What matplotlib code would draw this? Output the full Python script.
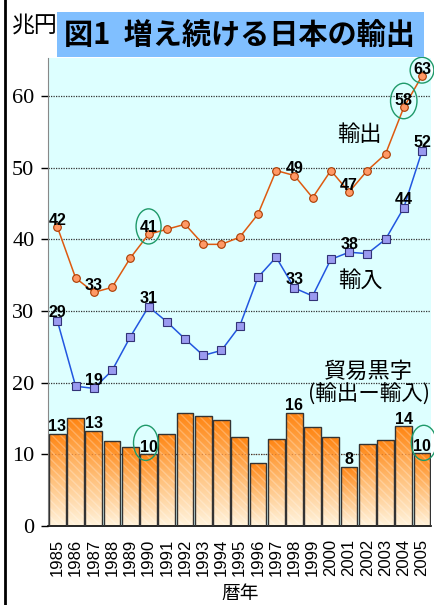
import matplotlib
matplotlib.use("Agg")
import matplotlib.pyplot as plt
import numpy as np
from matplotlib.patches import Rectangle, Ellipse
from matplotlib.colors import LinearSegmentedColormap

plt.rcParams['font.family'] = ['Noto Sans CJK JP', 'DejaVu Sans']

years = [str(y) for y in range(1985, 2006)]
exports = [41.7, 34.6, 32.6, 33.3, 37.4, 40.7, 41.4, 42.1, 39.3, 39.3, 40.3,
           43.5, 49.6, 48.9, 45.8, 49.6, 46.6, 49.6, 51.9, 58.4, 62.8]
imports = [28.6, 19.5, 19.2, 21.7, 26.4, 30.6, 28.5, 26.1, 23.8, 24.5, 27.9,
           34.7, 37.5, 33.2, 32.1, 37.2, 38.2, 38.0, 40.0, 44.4, 52.3]
balance = [12.9, 15.0, 13.3, 11.8, 11.0, 10.0, 12.9, 15.8, 15.4, 14.8, 12.4,
           8.8, 12.1, 15.8, 13.8, 12.4, 8.3, 11.5, 12.0, 13.9, 10.2]
export_labels = {0: "42", 2: "33", 5: "41", 13: "49", 16: "47", 19: "58", 20: "63"}
import_labels = {0: "29", 2: "19", 5: "31", 13: "33", 16: "38", 19: "44", 20: "52"}
balance_labels = {0: "13", 2: "13", 5: "10", 13: "16", 16: "8", 19: "14", 20: "10"}
yticks = [0, 10, 20, 30, 40, 50, 60]

W, H = 435, 605
fig = plt.figure(figsize=(W / 100, H / 100), dpi=100)
ax = fig.add_axes([48.3 / W, (H - 526) / H, 382.8 / W, 468 / H])
ax.set_facecolor('#ddffff')
x = np.arange(len(years))
ax.set_xlim(-0.5, len(years) - 0.5)
ax.set_ylim(0, 65.3)

# grid
for v in yticks[1:]:
    ax.axhline(v, color='#333333', lw=0.9, ls=(0, (1, 1)), zorder=1)

# bars with gradient
cmap = LinearSegmentedColormap.from_list('g', ['#fff3dc', '#ffc07a', '#ff8410'])
grad = np.linspace(0, 1, 256).reshape(-1, 1)
bw = 0.92
bars = ax.bar(x, balance, width=bw, color='none', edgecolor='#333333',
              linewidth=1.0, zorder=3)
for b in bars:
    x0, y0 = b.get_x(), b.get_y()
    w, h = b.get_width(), b.get_height()
    im = ax.imshow(grad, cmap=cmap, origin='lower', aspect='auto',
                   extent=[x0, x0 + w, y0, y0 + h], zorder=2)
    im.set_clip_path(b)
ax.bar(x, balance, width=bw, color='none', edgecolor=(1, 1, 1, 0.25),
       hatch='\\\\\\\\', linewidth=0, zorder=2.5)
ax.axhline(10, color='#aa5522', lw=0.8, ls=(0, (1, 2)), alpha=0.5, zorder=2.6)

# lines
ax.plot(x, exports, color='#dd5a10', lw=1.1, marker='o', markersize=5.5,
        markerfacecolor='#ff9966', markeredgecolor='#aa3a00', markeredgewidth=0.8,
        zorder=5)
ax.plot(x, imports, color='#2256e0', lw=1.1, marker='s', markersize=5.5,
        markerfacecolor='#9a9af0', markeredgecolor='#333377', markeredgewidth=0.8,
        zorder=5)

lab_font = dict(family=['Liberation Sans', 'DejaVu Sans'], fontweight='bold',
                fontsize=11.5, color='black', ha='center', va='bottom', zorder=6)
for i, t in export_labels.items():
    ax.annotate(t, (x[i], exports[i]), xytext=(0, -0.5), textcoords='offset points',
                annotation_clip=False, **lab_font)
for i, t in import_labels.items():
    ax.annotate(t, (x[i], imports[i]), xytext=(0, 0.5), textcoords='offset points',
                annotation_clip=False, **lab_font)
for i, t in balance_labels.items():
    ax.annotate(t, (x[i], balance[i]), xytext=(0, -0.5), textcoords='offset points',
                annotation_clip=False, **lab_font)

# green ellipses
ell_specs = [(5, 41.8, 1.37, 4.9), (19, 59.3, 1.45, 4.95), (20, 63.6, 1.3, 3.6),
             (4.85, 11.6, 1.35, 4.9), (20.1, 11.6, 1.37, 4.9)]
for cx, cy, ew, eh in ell_specs:
    e = Ellipse((cx, cy), ew, eh, fill=False, edgecolor='#1f9a6a', lw=1.0,
                zorder=7, clip_on=False)
    ax.add_patch(e)

# series text
ax.text(16.54, 54.7, '輸出', fontsize=16, ha='center', va='center', zorder=6)
ax.text(16.6, 34.3, '輸入', fontsize=16, ha='center', va='center', zorder=6)
ax.text(17.03, 21.6, '貿易黒字', fontsize=16, ha='center', va='center', zorder=6)
ax.text(17.12, 18.3, '(輸出ー輸入)', fontsize=15.5, ha='center', va='center', zorder=6)

# axes styling
ax.set_yticks(yticks)
ax.set_yticklabels([str(v) for v in yticks], family=['Liberation Serif'], fontsize=16)
ax.set_xticks(x)
ax.set_xticklabels(years, rotation=90, family=['Liberation Sans'], fontsize=12)
ax.tick_params(axis='y', length=5, width=1, pad=5, color='black')
ax.tick_params(axis='x', length=0, pad=9)
for s in ['top', 'right']:
    ax.spines[s].set_visible(False)
ax.spines['left'].set_color('#888888')
ax.spines['left'].set_linewidth(0.8)
ax.spines['bottom'].set_color('black')
ax.spines['bottom'].set_linewidth(1.2)
ax.set_xlabel('暦年', fontsize=13.5, labelpad=5)

# figure decorations
fig.add_artist(plt.Line2D([5 / W, 5 / W], [0, 1], color='black', lw=2,
                          transform=fig.transFigure))
fig.text(12 / W, 1 - 25 / H, '兆円', fontsize=16.5, ha='left', va='center')
fig.add_artist(Rectangle((57 / W, 1 - 57 / H), (424 - 57) / W, 45 / H,
                         transform=fig.transFigure, facecolor='#80bfff',
                         edgecolor='none', zorder=10))
fig.text(239 / W, 1 - 35 / H, '図1  増え続ける日本の輸出', fontsize=21,
         fontweight='bold', ha='center', va='center', zorder=11)

fig.savefig('out.png', dpi=100)
